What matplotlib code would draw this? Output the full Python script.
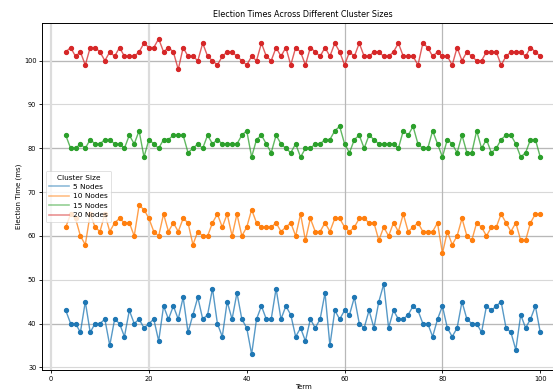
import matplotlib
matplotlib.use("Agg")
import matplotlib.pyplot as plt
from matplotlib.lines import Line2D

terms = list(range(3, 101))

nodes5 = [43, 40, 40, 38, 45, 38, 40, 40, 41, 35, 41, 40, 37, 43, 40, 41, 39, 40, 41, 36,
          44, 41, 44, 41, 46, 38, 42, 46, 41, 42, 48, 40, 37, 45, 41, 47, 41, 39, 33, 41,
          44, 41, 41, 48, 41, 44, 42, 37,
          39, 36, 41, 39, 41, 47, 35, 43, 41, 43, 42, 46, 40, 39, 43, 39, 45, 49, 39, 43,
          41, 41, 42, 44, 43, 40, 40, 37, 41, 44, 39, 37, 39, 45, 41, 40, 40, 38, 44, 43,
          44, 45, 39, 38, 34, 42, 39, 41, 44, 38]

nodes10 = [62, 65, 64, 60, 58, 65, 62, 61, 65, 61, 63, 64, 63, 63, 60, 67, 66, 64, 61, 60,
           65, 61, 63, 61, 64, 63, 58, 61, 60, 60, 63, 65, 62, 65, 60, 65, 60, 62, 66, 63,
           62, 62, 62, 63, 61, 62, 63, 60,
           65, 59, 64, 61, 61, 63, 61, 64, 64, 62, 61, 62, 64, 64, 63, 63, 59, 62, 60, 63,
           61, 65, 61, 62, 63, 61, 61, 61, 63, 56, 61, 58, 60, 64, 60, 59, 63, 62, 60, 62,
           62, 65, 63, 61, 63, 59, 59, 63, 65, 65]

nodes15 = [83, 80, 80, 81, 80, 82, 81, 81, 82, 82, 81, 81, 80, 83, 81, 84, 78, 82, 81, 80,
           82, 82, 83, 83, 83, 79, 80, 81, 80, 83, 81, 82, 81, 81, 81, 81, 83, 84, 78, 82,
           83, 81, 79, 83, 81, 80, 79, 81,
           78, 80, 80, 81, 81, 82, 82, 84, 85, 81, 79, 82, 83, 80, 83, 82, 81, 81, 81, 81,
           80, 84, 83, 85, 81, 80, 80, 84, 81, 78, 82, 81, 79, 83, 79, 79, 84, 80, 82, 79,
           80, 82, 83, 83, 81, 78, 79, 82, 82, 78]

nodes20 = [102, 103, 101, 102, 99, 103, 103, 102, 100, 102, 101, 103, 101, 101, 101, 102,
           104, 103, 103, 105, 102, 103, 102, 98, 103, 101, 101, 100, 104, 101, 100, 99,
           101, 102, 102, 101, 100, 99, 101, 100, 104, 101, 100, 103, 101, 103, 99, 103,
           102, 99, 103, 102, 101, 103, 101, 104, 102, 99, 102, 101, 104, 101, 101, 102,
           102, 101, 101, 102, 104, 101, 101, 101, 99, 104, 103, 101, 102, 101, 101, 99,
           103, 100, 102, 101, 100, 100, 102, 102, 102, 99, 101, 102, 102, 102, 101, 103,
           102, 101]

labels = ["5 Nodes", "10 Nodes", "15 Nodes", "20 Nodes"]
colors = ["#1f77b4", "#ff7f0e", "#2ca02c", "#d62728"]
series = [nodes5, nodes10, nodes15, nodes20]

x_ticks = [0, 20, 40, 60, 80, 100]
y_ticks = [30, 40, 50, 60, 70, 80, 90, 100]
base_lines = [40, 60, 80, 100]
light_vlines = [0, 20]
dark_vlines = [60, 80]

fig = plt.figure(figsize=(5.53, 3.91), dpi=100)
ax = fig.add_axes([42 / 553, 21 / 391, 522 / 553, 347 / 391])

for vals, c in zip(series, colors):
    ax.plot(terms, vals, color=c, linewidth=1.0, alpha=0.75, zorder=2)
    ax.plot(terms, vals, linestyle="none", marker="o", markersize=2.8,
            color=c, zorder=3)

# limits from the data with the default 5% margins
ax.margins(0.05)
ax.autoscale_view()
xlim = ax.get_xlim()
ylim = ax.get_ylim()

# light horizontal grid at every y tick, plus reference lines
ax.yaxis.grid(True, color="#d8d8d8", linewidth=0.8)
ax.xaxis.grid(False)
for yv in base_lines:
    ax.axhline(yv, color="#b8b8b8", linewidth=0.9, zorder=1)
for xv in light_vlines:
    ax.axvline(xv, color="#dcdcdc", linewidth=1.6, zorder=1)
for xv in dark_vlines:
    ax.axvline(xv, color="#b8b8b8", linewidth=0.9, zorder=1)
ax.set_axisbelow(True)
ax.set_xlim(xlim)
ax.set_ylim(ylim)

ax.set_xticks(x_ticks)
ax.set_yticks(y_ticks)
ax.tick_params(labelsize=4.8, length=2.5, width=0.6, pad=1.5)
for s in ax.spines.values():
    s.set_linewidth(0.7)

ax.set_title("Election Times Across Different Cluster Sizes", fontsize=5.8, pad=4)
ax.set_xlabel("Term", fontsize=5.0, labelpad=2)
ax.set_ylabel("Election Time (ms)", fontsize=5.0, labelpad=1)

handles = [Line2D([0], [0], color=c, linewidth=1.2, alpha=0.5) for c in colors]
leg = ax.legend(handles, labels, title="Cluster Size", loc="center left",
                fontsize=5.3, title_fontsize=5.3, framealpha=0.8,
                handlelength=2.6, borderpad=0.5, labelspacing=0.45,
                handletextpad=0.6)
leg.get_frame().set_linewidth(0.5)

fig.savefig("out.png", dpi=100)
